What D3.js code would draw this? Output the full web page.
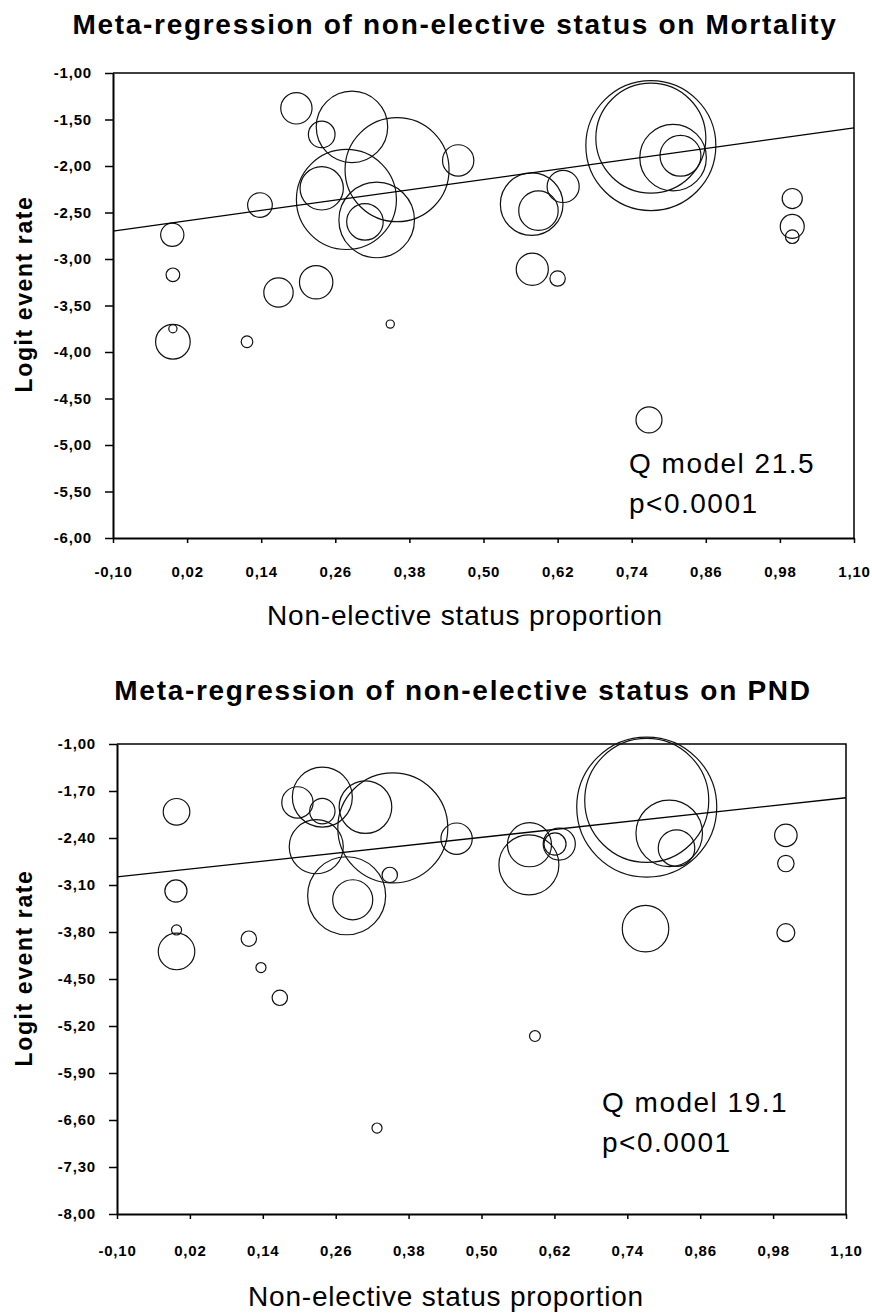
<!DOCTYPE html>
<html lang="en">
<head>
  <meta charset="UTF-8">
  <title>Meta-regression of non-elective status</title>
  <style>
      body{
          margin:0;
          background:#fff;
      }
      svg{
          display:block;
          font-family: "Liberation Sans", Arial, sans-serif;
      }
      .axis .domain{
          stroke:#000;
          stroke-width:2px;
      }
      .axis line{
          stroke:#000;
          stroke-width:1.5px;
      }
      .axis text{
          font-size:15px;
          font-weight:bold;
          letter-spacing:0.8px;
          fill:#000;
      }
      .bubble{
          fill:none;
          stroke:#111;
          stroke-width:1.2px;
      }
  </style>
</head>
<body>
    <svg width="872" height="1315"></svg>
    <script src="https://d3js.org/d3.v7.min.js"></script>
    <script>

        // x ticks shared by both panels
        var xTicks = [-0.10, 0.02, 0.14, 0.26, 0.38, 0.50, 0.62, 0.74, 0.86, 0.98, 1.10];

        // mortality panel
        var mortTicks = [-1.00, -1.50, -2.00, -2.50, -3.00, -3.50, -4.00, -4.50, -5.00, -5.50, -6.00];
        var mortX = [0.197, 0.238, 0.287, 0.360, 0.278, 0.238, 0.327, 0.308, 0.138, -0.004,
                     -0.003, 0.168, 0.229, 0.349, 0.117, -0.003, -0.003, 0.459, 0.578, 0.589,
                     0.629, 0.579, 0.620, 0.771, 0.771, 0.807, 0.819, 1.000, 1.000, 1.000, 0.768];
        var mortY = [-1.38, -1.66, -1.58, -2.04, -2.36, -2.24, -2.58, -2.60, -2.42, -2.74,
                     -3.17, -3.36, -3.25, -3.70, -3.89, -3.89, -3.75, -1.94, -2.41, -2.48,
                     -2.22, -3.11, -3.21, -1.78, -1.70, -1.91, -1.89, -2.35, -2.65, -2.76, -4.73];
        var mortW = [5.8, 4.2, 30.2, 64.0, 59.2, 11.1, 33.8, 7.9, 3.6, 3.2,
                     1.1, 5.1, 6.6, 0.4, 0.8, 7.1, 0.4, 5.8, 23.2, 9.2,
                     6.1, 6.1, 1.4, 100, 71.6, 26.2, 9.9, 2.4, 3.4, 1.1, 4.0];
        var mortFit = {intercept: -2.6075, slope: 0.925};

        // PND panel
        var pndTicks = [-1.00, -1.70, -2.40, -3.10, -3.80, -4.50, -5.20, -5.90, -6.60, -7.30, -8.00];
        var pndX = [-0.002, -0.003, -0.002, -0.002, 0.117, 0.137, 0.168, 0.197, 0.238, 0.238,
                    0.309, 0.354, 0.228, 0.278, 0.288, 0.349, 0.459, 0.579, 0.578, 0.628,
                    0.621, 0.772, 0.772, 0.809, 0.821, 0.770, 1.001, 1.001, 1.001, 0.588, 0.328];
        var pndY = [-2.01, -3.19, -3.77, -4.09, -3.90, -4.33, -4.78, -1.87, -1.79, -2.00,
                    -1.94, -2.25, -2.53, -3.26, -3.32, -2.95, -2.41, -2.50, -2.80, -2.49,
                    -2.49, -1.94, -1.84, -2.33, -2.55, -3.75, -2.36, -2.78, -3.81, -5.35, -6.72];
        var pndW = [4.2, 2.9, 0.6, 7.9, 1.4, 0.6, 1.4, 5.8, 21.3, 3.8,
                    16.4, 71.6, 17.3, 36.0, 9.5, 1.4, 5.8, 11.5, 21.3, 6.1,
                    2.9, 116, 91.0, 26.2, 7.9, 12.8, 3.0, 1.6, 1.9, 0.7, 0.6];
        var pndFit = {intercept: -2.882, slope: 0.983};

        var svg = d3.select("svg");

        // bubble area ~ study weight
        var r = d3.scaleSqrt().domain([0, 100]).range([0, 65]);

        // comma decimals, plain hyphen for minus
        var fmt = function(d) { return d.toFixed(2).replace(".", ","); };

        function panel(opt) {
            var x = d3.scaleLinear().domain([-0.10, 1.10]).range([opt.left, opt.right]);
            var y = d3.scaleLinear().domain([-1, opt.ticks[opt.ticks.length - 1]]).range([opt.top, opt.bottom]);

            svg.append("text")
                .attr("x", opt.titleX)
                .attr("y", opt.titleY)
                .attr("text-anchor", "middle")
                .style("font-size", "28px")
                .style("font-weight", "bold")
                .style("letter-spacing", "1.7px")
                .text(opt.title);

            // frame top + right
            svg.append("path")
                .attr("d", "M" + opt.left + "," + opt.top + "H" + opt.right + "V" + opt.bottom)
                .attr("fill", "none")
                .attr("stroke", "#000")
                .attr("stroke-width", 1.5);

            svg.append("g")
                .attr("class", "axis")
                .attr("transform", "translate(" + opt.left + ",0)")
                .call(d3.axisLeft(y).tickValues(opt.ticks).tickFormat(fmt).tickSize(8).tickPadding(13).tickSizeOuter(0));

            svg.append("g")
                .attr("class", "axis")
                .attr("transform", "translate(0," + opt.bottom + ")")
                .call(d3.axisBottom(x).tickValues(xTicks).tickFormat(fmt).tickSize(5).tickPadding(opt.xPad).tickSizeOuter(0));

            var pts = opt.xs.map(function(d, i) { return {x: d, y: opt.ys[i], w: opt.ws[i]}; });
            pts.sort(function(a, b) { return b.w - a.w; });

            svg.append("g").selectAll("circle")
                .data(pts)
                .enter().append("circle")
                .attr("class", "bubble")
                .attr("cx", function(d) { return x(d.x); })
                .attr("cy", function(d) { return y(d.y); })
                .attr("r", function(d) { return r(d.w); });

            svg.append("line")
                .attr("x1", x(-0.10))
                .attr("y1", y(opt.fit.intercept + opt.fit.slope * -0.10))
                .attr("x2", x(1.10))
                .attr("y2", y(opt.fit.intercept + opt.fit.slope * 1.10))
                .attr("stroke", "#000")
                .attr("stroke-width", 1.3);

            svg.append("text")
                .attr("transform", "translate(32," + opt.yLabelY + ") rotate(-90)")
                .attr("text-anchor", "middle")
                .style("font-size", "23px")
                .style("font-weight", "bold")
                .style("letter-spacing", "1.6px")
                .text("Logit event rate");

            svg.append("text")
                .attr("x", opt.xLabelX)
                .attr("y", opt.xLabelY)
                .attr("text-anchor", "middle")
                .style("font-size", "28px")
                .style("letter-spacing", "0.8px")
                .text("Non-elective status proportion");

            var q = svg.append("text")
                .style("font-size", "28px")
                .style("letter-spacing", "1.5px");
            q.append("tspan").attr("x", opt.qX).attr("y", opt.qY).text(opt.q);
            q.append("tspan").attr("x", opt.qX).attr("y", opt.qY + 40).text("p<0.0001");
        }

        panel({
            title: "Meta-regression of non-elective status on Mortality",
            titleX: 455, titleY: 34,
            left: 113, right: 854, top: 73, bottom: 538,
            ticks: mortTicks, xs: mortX, ys: mortY, ws: mortW, fit: mortFit,
            xPad: 23, yLabelY: 294, xLabelX: 465, xLabelY: 625,
            q: "Q model 21.5", qX: 629, qY: 473
        });

        panel({
            title: "Meta-regression of non-elective status on PND",
            titleX: 463, titleY: 700,
            left: 117, right: 846, top: 744, bottom: 1214,
            ticks: pndTicks, xs: pndX, ys: pndY, ws: pndW, fit: pndFit,
            xPad: 26, yLabelY: 968, xLabelX: 446, xLabelY: 1306,
            q: "Q model 19.1", qX: 602, qY: 1112
        });

    </script>
</body>
</html>
